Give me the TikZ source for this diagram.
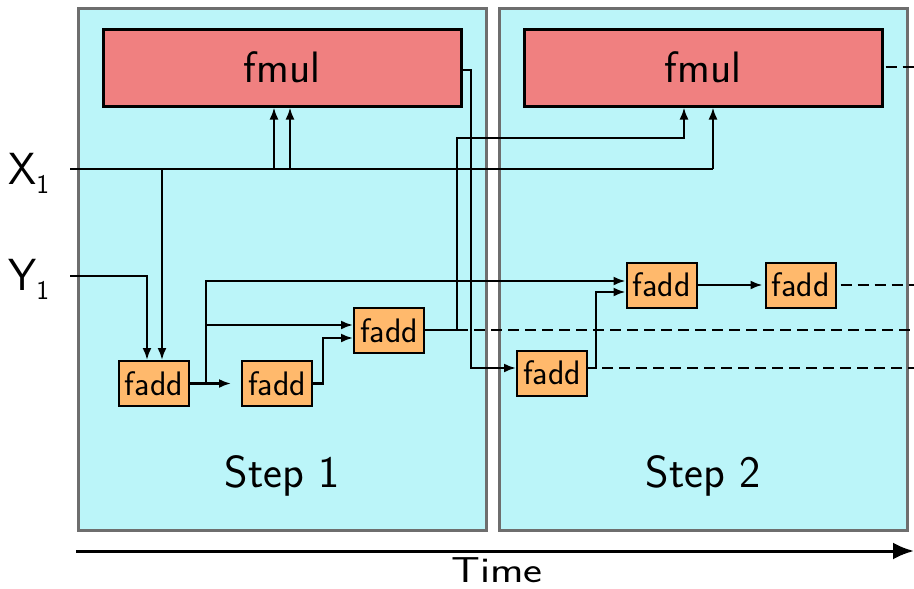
\documentclass[tikz,border=0pt]{standalone}
\usetikzlibrary{arrows.meta}
\definecolor{stepfill}{HTML}{BBF5F9}
\definecolor{stepline}{HTML}{6E6E6E}
\definecolor{mulfill}{HTML}{F08080}
\definecolor{addfill}{HTML}{FFB96C}
\tikzset{
  stepbox/.style={draw=stepline, fill=stepfill, line width=3pt, minimum width=408pt, minimum height=522pt, inner sep=0pt},
  mulbox/.style={draw=black, fill=mulfill, line width=3pt, minimum width=358pt, minimum height=77pt, inner sep=0pt, font=\sffamily\fontsize{44}{50}\selectfont},
  addbox/.style={draw=black, fill=addfill, line width=2pt, minimum width=70pt, minimum height=45pt, inner sep=0pt, font=\sffamily\fontsize{34}{40}\selectfont},
  conn/.style={line width=2.2pt},
  arr/.style={conn, -{Latex[length=12pt,width=9pt]}},
  dsh/.style={conn, dash pattern=on 11pt off 6pt},
  lbl/.style={inner sep=0pt, font=\sffamily\fontsize{45}{52}\selectfont},
}
\begin{document}
\begin{tikzpicture}[x=1pt, y=-1pt]
\useasboundingbox (0,0) rectangle (914,589);
% step boxes
\node[stepbox] (s1) at (282,269) {};
\node[stepbox] (s2) at (703,269) {};
\node[lbl, anchor=base] (st1) at (282,487) {Step 1};
\node[lbl, anchor=base] (st2) at (703,487) {Step 2};
% units
\node[mulbox] (m1) at (282,67.5) {fmul};
\node[mulbox] (m2) at (703,67.5) {fmul};
\node[addbox] (a1) at (154,383.5) {fadd};
\node[addbox] (a2) at (277,383.5) {fadd};
\node[addbox] (a3) at (389,330.5) {fadd};
\node[addbox] (a4) at (552,373) {fadd};
\node[addbox] (a5) at (661.5,285) {fadd};
\node[addbox] (a6) at (800.5,285) {fadd};
% inputs
\node[lbl, anchor=base west] (x1) at (8,184) {X\raisebox{-9pt}{\fontsize{27}{27}\selectfont 1}};
\node[lbl, anchor=base west] (y1) at (8,290) {Y\raisebox{-9pt}{\fontsize{27}{27}\selectfont 1}};
\coordinate (xin) at (70,169);
\coordinate (yin) at (70,276);
\coordinate (xend) at (713,169);
% X1 line
\draw[conn] (xin) -- (xend);
\draw[arr] (xend) -- (xend |- m2.south);
\draw[arr] (274,169) -- (274,0 |- m1.south);
\draw[arr] (290,169) -- (290,0 |- m1.south);
\draw[arr] (162,169) -- (162,0 |- a1.north);
% Y1 line
\draw[arr] (yin) -- (147,276) -- (147,0 |- a1.north);
% fmul1 output
\draw[arr] (m1.east |- 0,70) -- (471,70) -- (471,368) -- (a4.west |- 0,368);
% fadd1 outputs
\draw[arr, shorten >=10pt] (a1.east) -- (a2.west);
\draw[arr] (206,383.5) -- (206,281) -- (a5.west |- 0,281);
\draw[arr] (206,325) -- (a3.west |- 0,325);
% fadd2 output
\draw[arr] (a2.east) -- (323,383.5) -- (323,338) -- (a3.west |- 0,338);
% fadd3 output
\draw[arr] (a3.east |- 0,330) -- (457,330) -- (457,138) -- (684,138) -- (684,0 |- m2.south);
\coordinate (d1) at (914,330);
\draw[dsh] (457,330) -- (d1);
% fadd4 output
\draw[arr] (a4.east |- 0,368) -- (596,368) -- (596,292) -- (a5.west |- 0,292);
\coordinate (d2) at (914,368);
\draw[dsh] (602,368) -- (d2);
% fadd5 -> fadd6
\draw[arr, shorten >=2pt] (a5.east) -- (a6.west);
\coordinate (d3) at (914,285);
\draw[dsh] (a6.east) ++(4,0) -- (d3);
\coordinate (d4) at (914,67);
\draw[dsh] (m2.east |- 0,67) ++(2,0) -- (d4);
% time axis
\coordinate (t0) at (76,551);
\coordinate (t1) at (914,551);
\draw[line width=3pt, -{Latex[length=21pt,width=17pt]}] (t0) -- (t1);
\node[inner sep=0pt, anchor=base, font=\sffamily\fontsize{36}{40}\selectfont, xscale=1.25] (time) at (497,582) {Time};
\end{tikzpicture}
\end{document}
